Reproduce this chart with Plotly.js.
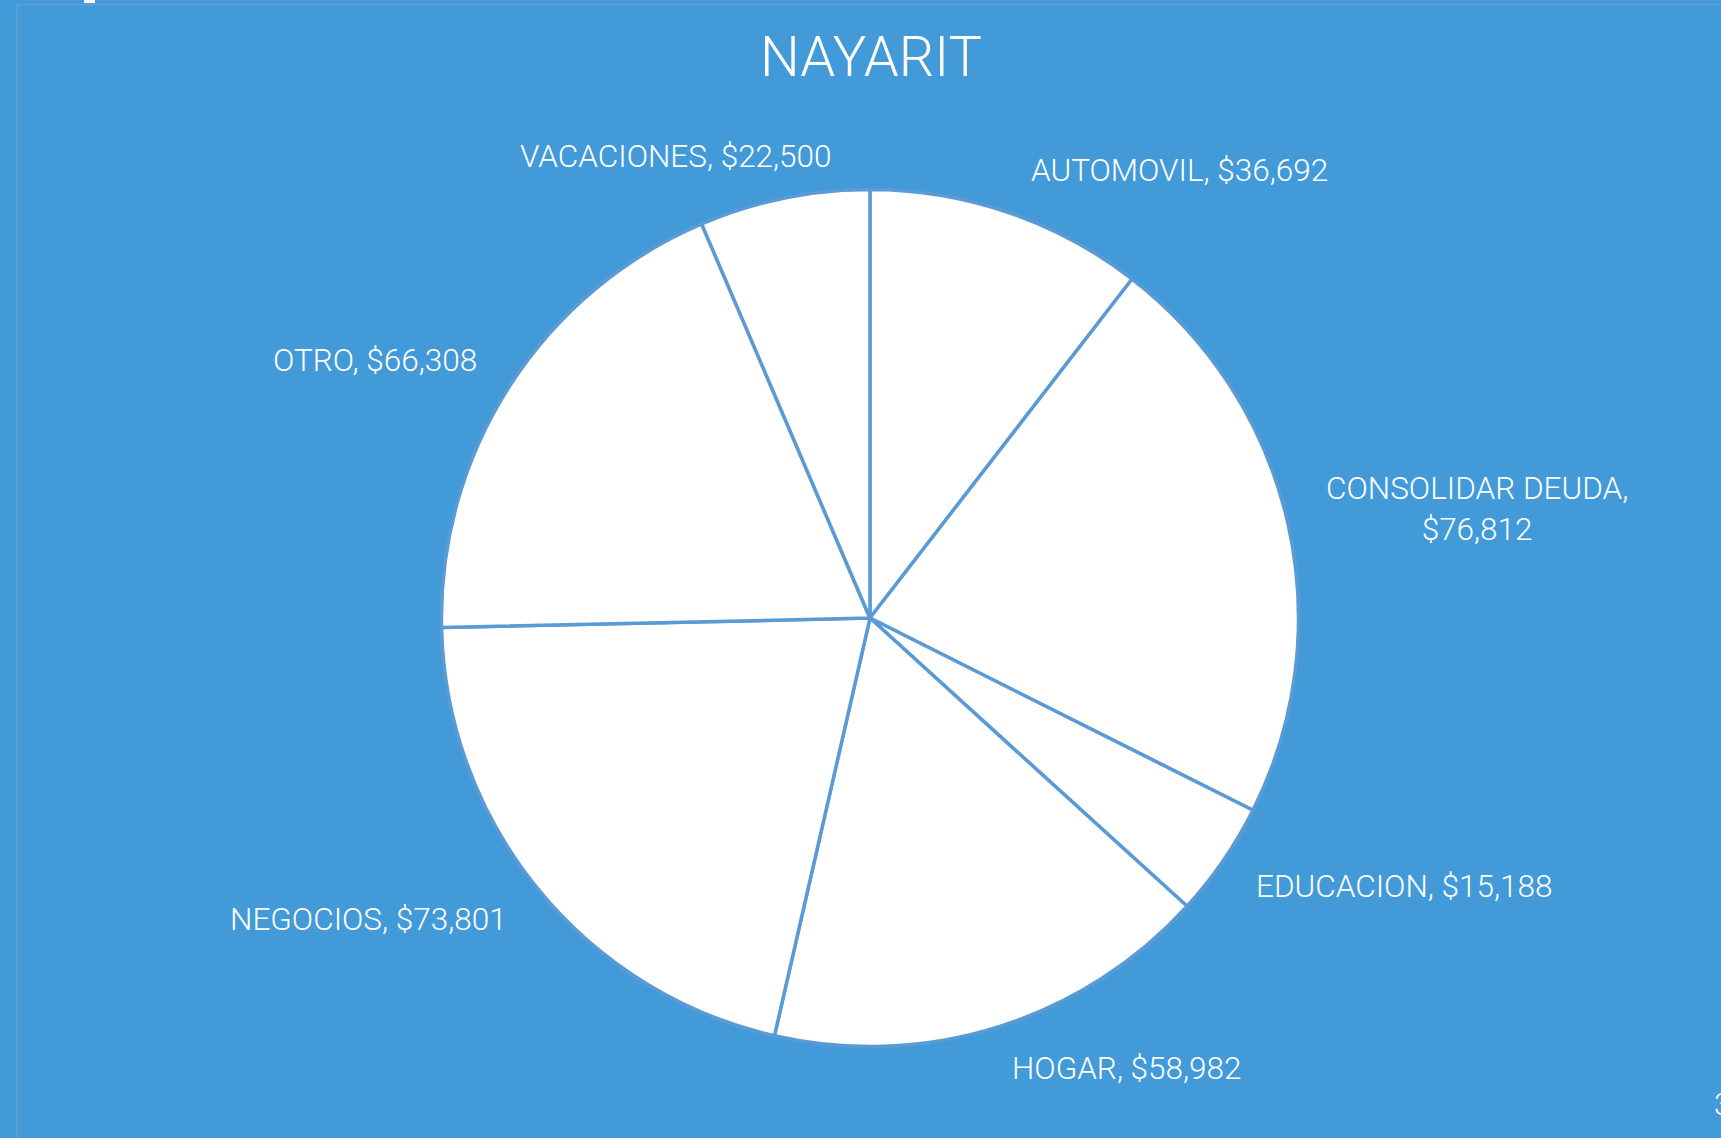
<!DOCTYPE html>
<html>
<head>
<meta charset="utf-8">
<script src="https://cdn.plot.ly/plotly-3.0.1.min.js"></script>
<style>html,body{margin:0;padding:0;background:#439AD9;}#chart{width:1721px;height:1138px;}</style>
</head>
<body>
<div id="chart"></div>
<script>
const categories = ["AUTOMOVIL", "CONSOLIDAR DEUDA", "EDUCACION", "HOGAR", "NEGOCIOS", "OTRO", "VACACIONES"];
const values = [36692, 76812, 15188, 58982, 73801, 66308, 22500];
const chartTitle = "NAYARIT";

// label placement (paper coords), kept separate from data
const labelX = [0.6851, 0.8582, 0.8158, 0.6543, 0.2144, 0.2179, 0.3928];
const labelY = [0.8506, 0.5527, 0.2206, 0.0615, 0.1924, 0.6828, 0.8629];
const labelBreak = [false, true, false, false, false, false, false];

const fmt = v => '$' + v.toLocaleString('en-US');
const FONT = 'Roboto, "Open Sans", sans-serif';

const annotations = categories.map((c, i) => ({
  x: labelX[i], y: labelY[i], xref: 'paper', yref: 'paper',
  xanchor: 'center', yanchor: 'middle', showarrow: false,
  text: c + ',' + (labelBreak[i] ? '<br>' : ' ') + fmt(values[i]),
  align: 'center',
  font: {family: FONT, size: 31.5, color: '#ffffff', weight: 300}
}));
annotations.push({
  x: 1712/1721, y: 1 - 1104/1138, xref: 'paper', yref: 'paper',
  xanchor: 'left', yanchor: 'middle', showarrow: false, text: '3',
  font: {family: FONT, size: 31, color: '#ffffff', weight: 300}
});

const data = [{
  type: 'pie',
  labels: categories,
  values: values,
  sort: false,
  direction: 'clockwise',
  rotation: 0,
  textinfo: 'none',
  hoverinfo: 'label+value',
  marker: {colors: categories.map(() => '#ffffff'), line: {color: '#5B9BD5', width: 3.5}},
  domain: {x: [0.2565, 0.7545], y: [0.0803, 0.8335]},
  showlegend: false
}];

const layout = {
  width: 1721, height: 1138,
  margin: {l: 0, r: 0, t: 0, b: 0},
  paper_bgcolor: '#439AD9',
  plot_bgcolor: '#439AD9',
  title: {
    text: chartTitle, x: 871/1721, xanchor: 'center', y: 1 - 56/1138, yanchor: 'middle',
    xref: 'paper', yref: 'paper',
    font: {family: FONT, size: 56, color: '#ffffff', weight: 300}
  },
  annotations: annotations,
  shapes: [
    {type: 'rect', xref: 'paper', yref: 'paper', x0: 17/1721, x1: 1.02, y0: -0.02, y1: 1 - 4.5/1138,
     line: {color: '#5E9ED6', width: 2}, fillcolor: 'rgba(0,0,0,0)'},
    {type: 'rect', xref: 'paper', yref: 'paper', x0: 84/1721, x1: 95/1721, y0: 1 - 3/1138, y1: 1.01,
     line: {width: 0}, fillcolor: '#ffffff'}
  ]
};

Plotly.newPlot('chart', data, layout, {displayModeBar: false, staticPlot: true});
</script>
</body>
</html>
